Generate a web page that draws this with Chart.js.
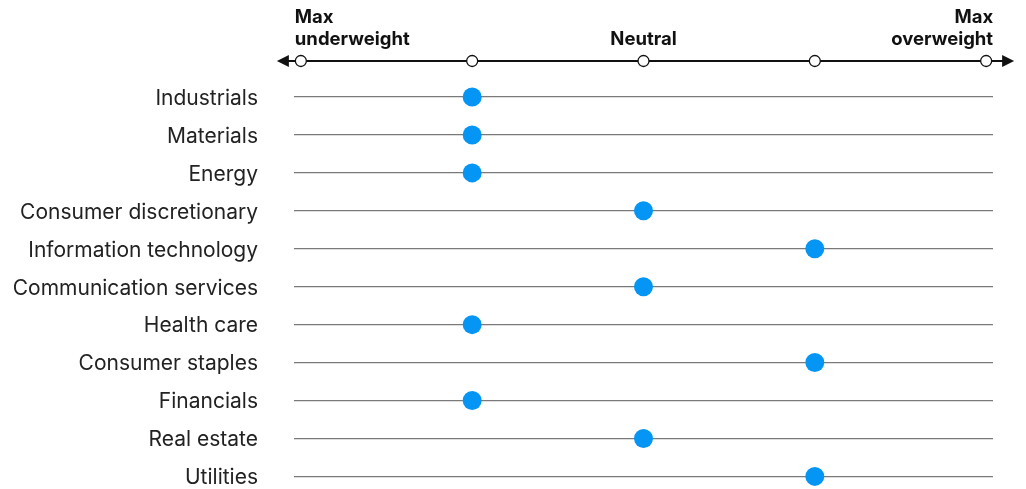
<!DOCTYPE html>
<html>
<head>
<meta charset="utf-8">
<script src="https://cdn.jsdelivr.net/npm/chart.js@4"></script>
<style>
  body { margin: 0; background: #fff; }
  #wrap { width: 1026px; height: 489px; position: relative; }
</style>
</head>
<body>
<div id="wrap"><canvas id="chart"></canvas></div>
<script>
// Sectors, top to bottom
const sectors = ['Industrials', 'Materials', 'Energy', 'Consumer discretionary', 'Information technology',
  'Communication services', 'Health care', 'Consumer staples', 'Financials', 'Real estate', 'Utilities'];
// 0 = max underweight, 2 = neutral, 4 = max overweight
const positions = [1, 1, 1, 2, 3, 2, 1, 3, 1, 2, 3];
const scaleSteps = [0, 1, 2, 3, 4];
const scaleLabels = [['Max', 'underweight'], [], ['Neutral'], [], ['Max', 'overweight']];

const headFont = 'bold 18.5px Inter, "Noto Sans", sans-serif';

// Draws the top arrow axis with its open markers and captions
const topAxis = {
  id: 'topAxis',
  afterDraw(chart) {
    const ctx = chart.ctx;
    const xs = chart.scales.x;
    const y = chart.chartArea.top - 36;
    const left = xs.getPixelForValue(scaleSteps[0]);
    const right = xs.getPixelForValue(scaleSteps[scaleSteps.length - 1]);
    ctx.save();
    ctx.strokeStyle = '#111';
    ctx.fillStyle = '#111';
    ctx.lineWidth = 2;
    ctx.beginPath();
    ctx.moveTo(left - 16, y);
    ctx.lineTo(right + 20, y);
    ctx.stroke();
    // arrows
    ctx.beginPath();
    ctx.moveTo(left - 24, y);
    ctx.lineTo(left - 12, y - 6);
    ctx.lineTo(left - 12, y + 6);
    ctx.closePath();
    ctx.fill();
    ctx.beginPath();
    ctx.moveTo(right + 28, y);
    ctx.lineTo(right + 16, y - 6);
    ctx.lineTo(right + 16, y + 6);
    ctx.closePath();
    ctx.fill();
    // open markers
    ctx.lineWidth = 1.3;
    scaleSteps.forEach(v => {
      ctx.beginPath();
      ctx.arc(xs.getPixelForValue(v), y, 5.5, 0, Math.PI * 2);
      ctx.fillStyle = '#fff';
      ctx.fill();
      ctx.stroke();
    });
    // captions
    ctx.font = headFont;
    ctx.fillStyle = '#111';
    ctx.textBaseline = 'middle';
    scaleSteps.forEach((v, i) => {
      const lines = scaleLabels[i];
      if (!lines.length) return;
      let x = xs.getPixelForValue(v);
      if (i === 0) { ctx.textAlign = 'left'; x -= 6; }
      else if (i === scaleSteps.length - 1) { ctx.textAlign = 'right'; x += 7; }
      else ctx.textAlign = 'center';
      lines.forEach((line, j) => {
        ctx.fillText(line, x, y - 22 - (lines.length - 1 - j) * 22);
      });
    });
    ctx.restore();
  }
};

new Chart(document.getElementById('chart'), {
  type: 'scatter',
  data: {
    datasets: [{
      data: sectors.map((s, i) => ({ x: positions[i], y: s })),
      backgroundColor: '#0596F5',
      borderWidth: 0,
      pointRadius: 9.5,
      pointHoverRadius: 9.5,
      clip: false
    }]
  },
  options: {
    responsive: true,
    maintainAspectRatio: false,
    animation: false,
    layout: { padding: { top: 97, bottom: 0, right: 33, left: 0 } },
    plugins: { legend: { display: false }, tooltip: { enabled: false } },
    scales: {
      x: {
        type: 'linear',
        min: -0.04,
        max: 4.04,
        display: false
      },
      y: {
        type: 'category',
        labels: sectors,
        offset: false,
        border: { display: false },
        grid: { color: '#7a7a7a', lineWidth: 1.3, drawTicks: true, tickLength: 36, tickColor: 'rgba(0,0,0,0)' },
        ticks: { color: '#222', font: { family: 'Inter, "Noto Sans", sans-serif', size: 21 }, padding: 0, labelOffset: 1.5 },
        afterFit(scale) { scale.width = 294; }
      }
    }
  },
  plugins: [topAxis]
});
</script>
</body>
</html>
